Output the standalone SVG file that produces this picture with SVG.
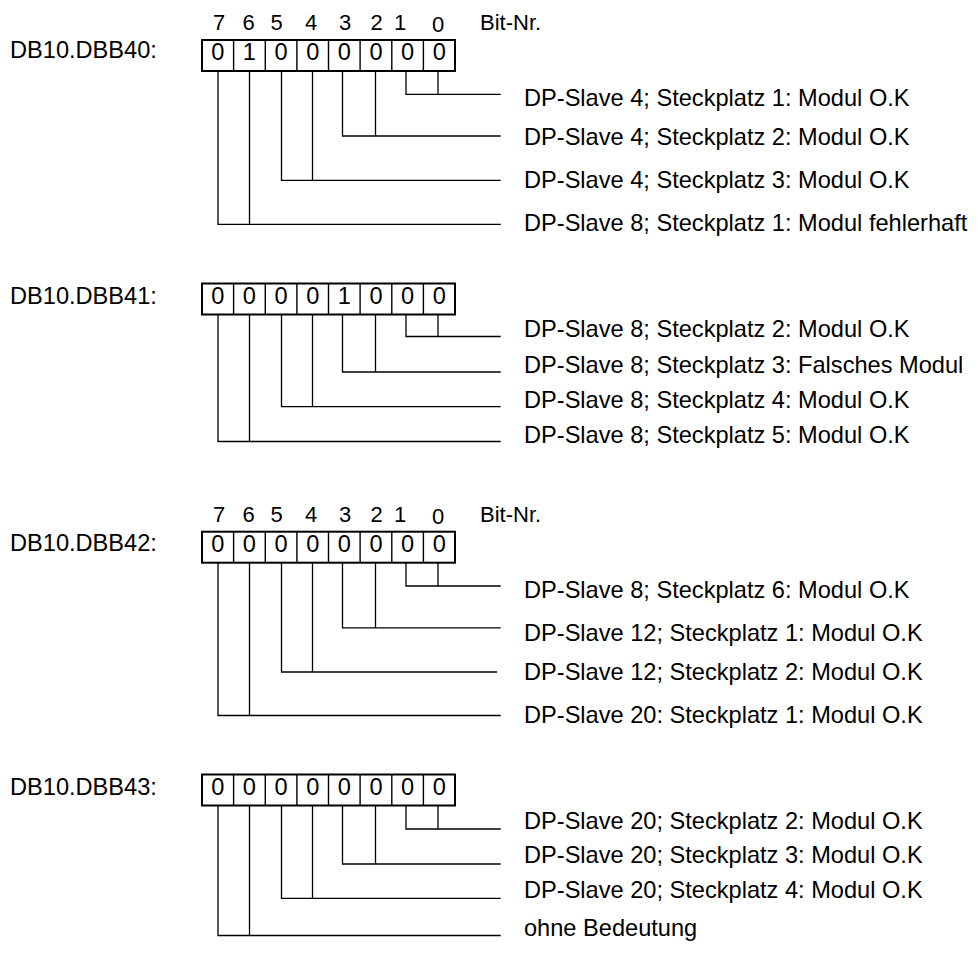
<svg xmlns="http://www.w3.org/2000/svg" width="978" height="954" viewBox="0 0 978 954">
<style>
text{font-family:"Liberation Sans",Arial,sans-serif;fill:#000}
.lbl{font-size:23.6px}
.bit{font-size:22px;text-anchor:middle}
.cell{font-size:23.6px;text-anchor:middle}
.box{fill:#fff;stroke:#000;stroke-width:2}
.div{stroke:#000;stroke-width:1.4}
.con{fill:none;stroke:#000;stroke-width:1.3}
</style>
<defs>
<g id="cells">
<rect class="box" x="202" y="0" width="253" height="31"/>
<path class="div" d="M233.6 0V31M265.3 0V31M296.9 0V31M328.5 0V31M360.1 0V31M391.8 0V31M423.4 0V31"/>
</g>
<g id="bitnr">
<text class="bit" x="219" y="0">7</text>
<text class="bit" x="248.5" y="0">6</text>
<text class="bit" x="276.5" y="0">5</text>
<text class="bit" x="311" y="0">4</text>
<text class="bit" x="345" y="0">3</text>
<text class="bit" x="376.5" y="0">2</text>
<text class="bit" x="400" y="0">1</text>
<text class="bit" x="438" y="2">0</text>
<text style="font-size:22px" x="480" y="0">Bit-Nr.</text>
</g>
</defs>

<g id="byte40">
<use href="#bitnr" y="30"/>
<text class="lbl" x="10" y="58">DB10.DBB40:</text>
<use href="#cells" y="40"/>
<text class="cell" x="217.8" y="60">0</text><text class="cell" x="249.4" y="60">1</text><text class="cell" x="281.1" y="60">0</text><text class="cell" x="312.7" y="60">0</text><text class="cell" x="344.3" y="60">0</text><text class="cell" x="376" y="60">0</text><text class="cell" x="407.6" y="60">0</text><text class="cell" x="439.2" y="60">0</text>
<text class="lbl" x="524" y="106">DP-Slave 4; Steckplatz 1: Modul O.K</text>
<text class="lbl" x="524" y="145">DP-Slave 4; Steckplatz 2: Modul O.K</text>
<text class="lbl" x="524" y="188">DP-Slave 4; Steckplatz 3: Modul O.K</text>
<text class="lbl" x="524" y="231">DP-Slave 8; Steckplatz 1: Modul fehlerhaft</text>
</g>

<g id="byte41">
<text class="lbl" x="10" y="304">DB10.DBB41:</text>
<use href="#cells" y="283.5"/>
<text class="cell" x="217.8" y="304">0</text><text class="cell" x="249.4" y="304">0</text><text class="cell" x="281.1" y="304">0</text><text class="cell" x="312.7" y="304">0</text><text class="cell" x="344.3" y="304">1</text><text class="cell" x="376" y="304">0</text><text class="cell" x="407.6" y="304">0</text><text class="cell" x="439.2" y="304">0</text>
<text class="lbl" x="524" y="337">DP-Slave 8; Steckplatz 2: Modul O.K</text>
<text class="lbl" x="524" y="373">DP-Slave 8; Steckplatz 3: Falsches Modul</text>
<text class="lbl" x="524" y="408">DP-Slave 8; Steckplatz 4: Modul O.K</text>
<text class="lbl" x="524" y="443">DP-Slave 8; Steckplatz 5: Modul O.K</text>
</g>

<g id="byte42">
<use href="#bitnr" y="522"/>
<text class="lbl" x="10" y="551">DB10.DBB42:</text>
<use href="#cells" y="531.7"/>
<text class="cell" x="217.8" y="552">0</text><text class="cell" x="249.4" y="552">0</text><text class="cell" x="281.1" y="552">0</text><text class="cell" x="312.7" y="552">0</text><text class="cell" x="344.3" y="552">0</text><text class="cell" x="376" y="552">0</text><text class="cell" x="407.6" y="552">0</text><text class="cell" x="439.2" y="552">0</text>
<text class="lbl" x="524" y="598">DP-Slave 8; Steckplatz 6: Modul O.K</text>
<text class="lbl" x="524" y="641">DP-Slave 12; Steckplatz 1: Modul O.K</text>
<text class="lbl" x="524" y="680">DP-Slave 12; Steckplatz 2: Modul O.K</text>
<text class="lbl" x="524" y="723">DP-Slave 20: Steckplatz 1: Modul O.K</text>
</g>

<g id="byte43">
<text class="lbl" x="10" y="795">DB10.DBB43:</text>
<use href="#cells" y="774.5"/>
<text class="cell" x="217.8" y="795">0</text><text class="cell" x="249.4" y="795">0</text><text class="cell" x="281.1" y="795">0</text><text class="cell" x="312.7" y="795">0</text><text class="cell" x="344.3" y="795">0</text><text class="cell" x="376" y="795">0</text><text class="cell" x="407.6" y="795">0</text><text class="cell" x="439.2" y="795">0</text>
<text class="lbl" x="524" y="829">DP-Slave 20; Steckplatz 2: Modul O.K</text>
<text class="lbl" x="524" y="863">DP-Slave 20; Steckplatz 3: Modul O.K</text>
<text class="lbl" x="524" y="898">DP-Slave 20; Steckplatz 4: Modul O.K</text>
<text class="lbl" x="524" y="936">ohne Bedeutung</text>
</g>

<g id="connectors" class="con">
<path d="M406 71V94.3H500.7M438 71V94.3"/>
<path d="M342.5 71V136H500.7M375.5 71V136"/>
<path d="M281.5 71V180.3H500.7M312.5 71V180.3"/>
<path d="M218 71V224.3H500.7M249.5 71V224.3"/>

<path d="M406 314.5V336.5H500.7M438 314.5V336.5"/>
<path d="M342.5 314.5V372H500.7M375.5 314.5V372"/>
<path d="M281.5 314.5V406.7H500.7M312.5 314.5V406.7"/>
<path d="M218 314.5V441.5H500.7M249.5 314.5V441.5"/>

<path d="M406 562.7V586H500.7M438 562.7V586"/>
<path d="M342.5 562.7V627.8H500.7M375.5 562.7V627.8"/>
<path d="M281.5 562.7V672H497M312.5 562.7V672"/>
<path d="M218 562.7V715.5H500.7M249.5 562.7V715.5"/>

<path d="M406 805.5V829H500.7M438 805.5V829"/>
<path d="M342.5 805.5V864H500.7M375.5 805.5V864"/>
<path d="M281.5 805.5V898.3H500.7M312.5 805.5V898.3"/>
<path d="M218 805.5V935.5H500.7M249.5 805.5V935.5"/>
</g>
</svg>
